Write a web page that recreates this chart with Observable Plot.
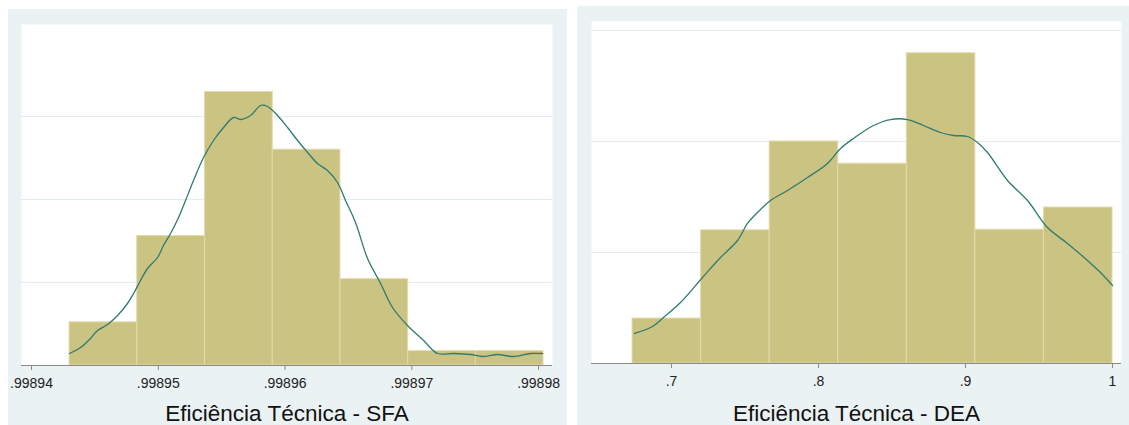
<!DOCTYPE html>
<html>
<head>
<meta charset="utf-8">
<script src="https://cdn.jsdelivr.net/npm/d3@7"></script>
<script src="https://cdn.jsdelivr.net/npm/@observablehq/plot@0.6"></script>
<style>
  html, body { margin: 0; padding: 0; background: #ffffff; }
  #root { position: relative; width: 1129px; height: 425px; overflow: hidden; background: #ffffff; }
  .panel { position: absolute; background: #eaf2f3; overflow: hidden; }
  .panel svg { display: block; }
</style>
</head>
<body>
<div id="root">
  <div class="panel" id="sfa" style="left:8px; top:9px; width:559px; height:416px;"></div>
  <div class="panel" id="dea" style="left:577px; top:6px; width:552px; height:419px;"></div>
</div>
<script>
// ---------- SFA panel data ----------
const sfaTitle = "Eficiência Técnica - SFA";
const sfaBinEdges = [0.9989430, 0.99894834, 0.99895368, 0.99895903, 0.99896437, 0.99896971, 0.99897505, 0.99898039];
const sfaDensity = [10400, 31200, 65900, 52000, 20800, 3470, 3470];
const sfaKdeX = [0.9989430, 0.99894387, 0.99894465, 0.99894521, 0.99894600, 0.99894679, 0.99894757, 0.99894805,
  0.99894860, 0.99894915, 0.99894994, 0.99895041, 0.99895097, 0.99895160, 0.99895215, 0.99895278, 0.99895357,
  0.99895436, 0.99895515, 0.99895594, 0.99895649, 0.99895728, 0.99895807, 0.99895862, 0.99895941, 0.99896020,
  0.99896099, 0.99896178, 0.99896256, 0.99896335, 0.99896414, 0.99896477, 0.99896556, 0.99896651, 0.99896754,
  0.99896848, 0.99896966, 0.99897093, 0.99897203, 0.99897329, 0.99897464, 0.99897558, 0.99897677, 0.99897803,
  0.99897937, 0.99898032];
const sfaKdeY = [2892, 4337, 6506, 8434, 9880, 12048, 14940, 17349,
  20482, 23373, 26024, 28916, 31807, 35663, 39759, 44578, 50120,
  54217, 57349, 59759, 59277, 60241, 62651, 62410, 60241, 57349,
  54217, 51325, 48675, 46988, 44096, 39759, 34458, 25783, 19759,
  13976, 9639, 6024, 2892, 2892, 2651, 2169, 2651, 2169,
  2892, 2892];
const sfaXTicks = [0.99894, 0.99895, 0.99896, 0.99897, 0.99898];
const sfaYGrid = [20000, 40000, 60000];

// ---------- DEA panel data ----------
const deaTitle = "Eficiência Técnica - DEA";
const deaBinEdges = [0.6735, 0.72014, 0.76679, 0.81343, 0.86007, 0.90671, 0.95336, 1.0];
const deaDensity = [0.81, 2.40, 4.00, 3.60, 5.59, 2.41, 2.81];
const deaKdeX = [0.67483, 0.68707, 0.69456, 0.70612, 0.72109, 0.73333, 0.74490, 0.75170, 0.75850, 0.76735,
  0.77891, 0.79252, 0.80612, 0.81497, 0.82381, 0.83741, 0.84898, 0.86054, 0.87143, 0.88299,
  0.89184, 0.90136, 0.90816, 0.91497, 0.92857, 0.94218, 0.95578, 0.96939, 0.98299, 0.99184, 1.0];
const deaKdeY = [0.541, 0.667, 0.829, 1.099, 1.550, 1.910, 2.216, 2.523, 2.721, 2.937,
  3.117, 3.351, 3.604, 3.874, 4.054, 4.288, 4.396, 4.396, 4.288, 4.162,
  4.108, 4.090, 3.982, 3.802, 3.297, 2.937, 2.450, 2.162, 1.856, 1.640, 1.405];
const deaXTicks = [0.7, 0.8, 0.9, 1];
const deaYGrid = [2, 4, 6];

// ---------- styles ----------
const barFill = "#cbc381";
const barEdge = "#e2dbaa";
const kdeColor = "#2f7b71";
const gridColor = "#e3ecef";
const axisColor = "#8a8a8a";
const font = "'Liberation Sans', Arial, Helvetica, sans-serif";

function stataFmt(d) {
  if (d === 1) return "1";
  return String(d).replace(/^0(?=\.)/, "");
}

function makePanel(o) {
  const bars = o.dens.map((v, i) => ({x1: o.edges[i], x2: o.edges[i + 1], y: v}));
  const kde = o.kx.map((x, i) => ({x, y: o.ky[i]}));
  return Plot.plot({
    width: o.width, height: o.height,
    marginLeft: o.ml, marginRight: o.mr, marginTop: o.mt, marginBottom: o.mb,
    style: {background: "transparent", fontFamily: font, overflow: "visible"},
    x: {domain: o.xDomain, axis: null},
    y: {domain: o.yDomain, axis: null},
    marks: [
      Plot.frame({fill: "white", stroke: "none"}),
      Plot.ruleY(o.grid, {stroke: gridColor, strokeWidth: 1.2}),
      Plot.rectY(bars, {x1: "x1", x2: "x2", y: "y", fill: barFill, stroke: barEdge, strokeWidth: 1}),
      Plot.line(kde, {x: "x", y: "y", stroke: kdeColor, strokeWidth: 1.3, curve: "catmull-rom"}),
      Plot.ruleY([0], {stroke: axisColor, strokeWidth: 1}),
      Plot.axisX(o.ticks, {tickSize: 5, tickPadding: 8, tickFormat: stataFmt, fontSize: 14,
        stroke: axisColor, fill: "#222", label: null}),
      Plot.text([o.title], {frameAnchor: "bottom", lineAnchor: "bottom", dy: o.titleDy,
        fontSize: 22.5, fill: "#111", text: d => d})
    ]
  });
}

const sfaPlot = makePanel({
  edges: sfaBinEdges, dens: sfaDensity, kx: sfaKdeX, ky: sfaKdeY,
  width: 559, height: 416, ml: 13, mr: 15, mt: 15, mb: 60,
  xDomain: [0.99893921, 0.99898110], yDomain: [0, 82170],
  grid: sfaYGrid, ticks: sfaXTicks, title: sfaTitle, titleDy: 55
});
document.getElementById("sfa").appendChild(sfaPlot);

const deaPlot = makePanel({
  edges: deaBinEdges, dens: deaDensity, kx: deaKdeX, ky: deaKdeY,
  width: 552, height: 419, ml: 14, mr: 8, mt: 15, mb: 62,
  xDomain: [0.64558, 1.00612], yDomain: [0, 6.162],
  grid: deaYGrid, ticks: deaXTicks, title: deaTitle, titleDy: 57
});
document.getElementById("dea").appendChild(deaPlot);
</script>
</body>
</html>
